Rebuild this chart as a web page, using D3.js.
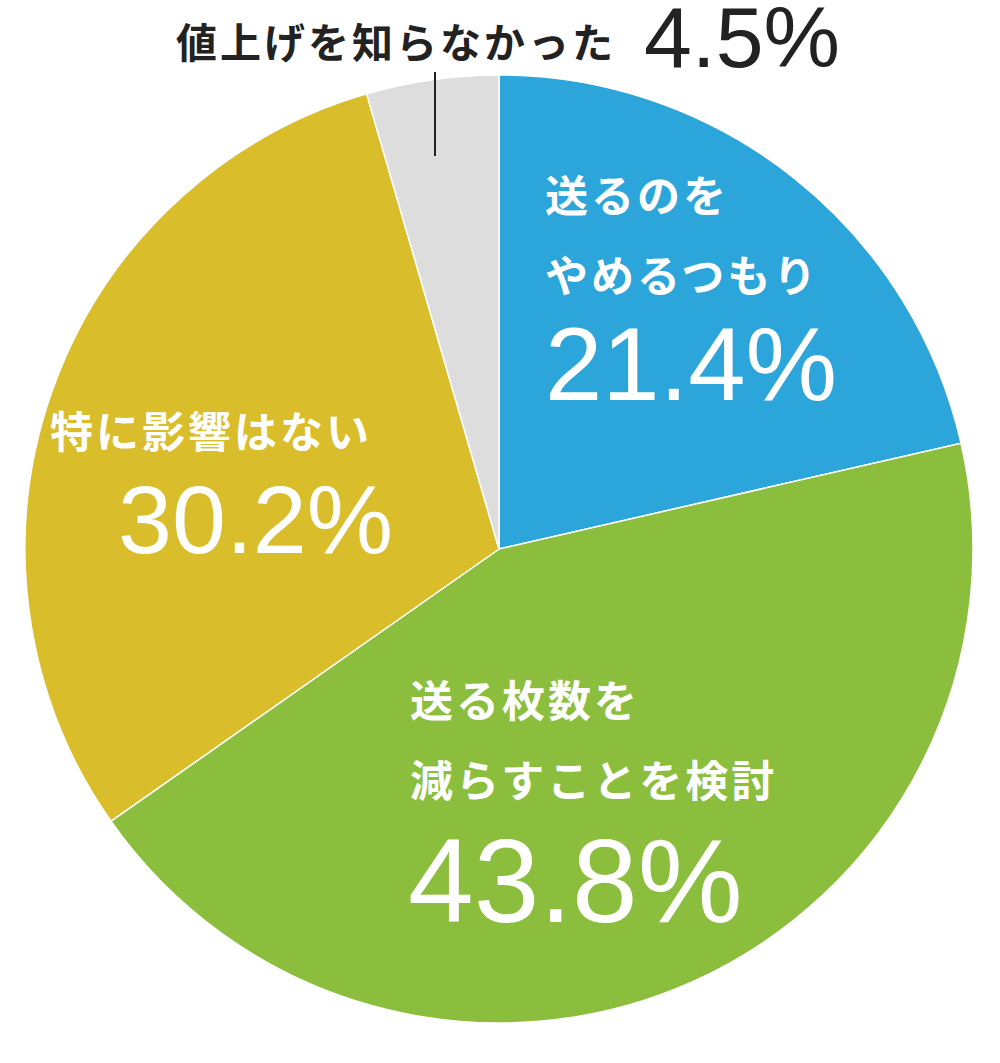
<!DOCTYPE html>
<html><head><meta charset="utf-8">
<script src="https://cdn.jsdelivr.net/npm/d3@7"></script>
<style>body{margin:0;background:#fff}text{font-family:"Noto Sans CJK JP",sans-serif;font-weight:700}
.num{font-family:"Liberation Sans",Arial,sans-serif;font-weight:400}</style>
</head><body>
<svg id="chart" width="1000" height="1063"></svg>
<script>
const categories = ["送るのをやめるつもり", "送る枚数を減らすことを検討", "特に影響はない", "値上げを知らなかった"];
const values = [21.4, 43.8, 30.2, 4.5];
const colors = ["#2ba5da", "#8cbe3e", "#dabd2b", "#dddddd"];
const labelLines = [["送るのを", "やめるつもり"], ["送る枚数を", "減らすことを検討"], ["特に影響はない"], []];
// layout: [x, first line baseline, number x, number baseline, number size]
const layout = [[545, 212, 545, 400, 103], [410, 717, 408, 922, 118], [50, 448, 118, 553, 97], null];

const svg = d3.select("#chart");
const cx = 499, cy = 549, r = 474;
const pie = d3.pie().sort(null).value(d => d)(values);
const arc = d3.arc().innerRadius(0).outerRadius(r);
const g = svg.append("g").attr("transform", `translate(${cx},${cy})`);
g.selectAll("path").data(pie).enter().append("path")
  .attr("d", arc).attr("fill", (d, i) => colors[i])
  .attr("stroke", "#fff").attr("stroke-width", 1.5);

values.forEach((v, i) => {
  const p = layout[i];
  if (!p) return;
  labelLines[i].forEach((s, j) => svg.append("text").attr("x", p[0]).attr("y", p[1] + j * 80)
    .attr("font-size", 43).attr("letter-spacing", 3).attr("fill", "#fff").text(s));
  svg.append("text").attr("class", "num").attr("x", p[2]).attr("y", p[3])
    .attr("font-size", p[4]).attr("fill", "#fff").text(v.toFixed(1) + "%");
});

svg.append("text").attr("x", 176).attr("y", 58).attr("font-size", 41).attr("letter-spacing", 3).attr("fill", "#222").text(categories[3]);
svg.append("text").attr("class", "num").attr("x", 644).attr("y", 67).attr("font-size", 86).attr("font-weight", 700).attr("fill", "#222").text(values[3].toFixed(1) + "%");
svg.append("line").attr("x1", 435).attr("x2", 435).attr("y1", 72).attr("y2", 156).attr("stroke", "#222").attr("stroke-width", 2);
</script>
</body></html>
